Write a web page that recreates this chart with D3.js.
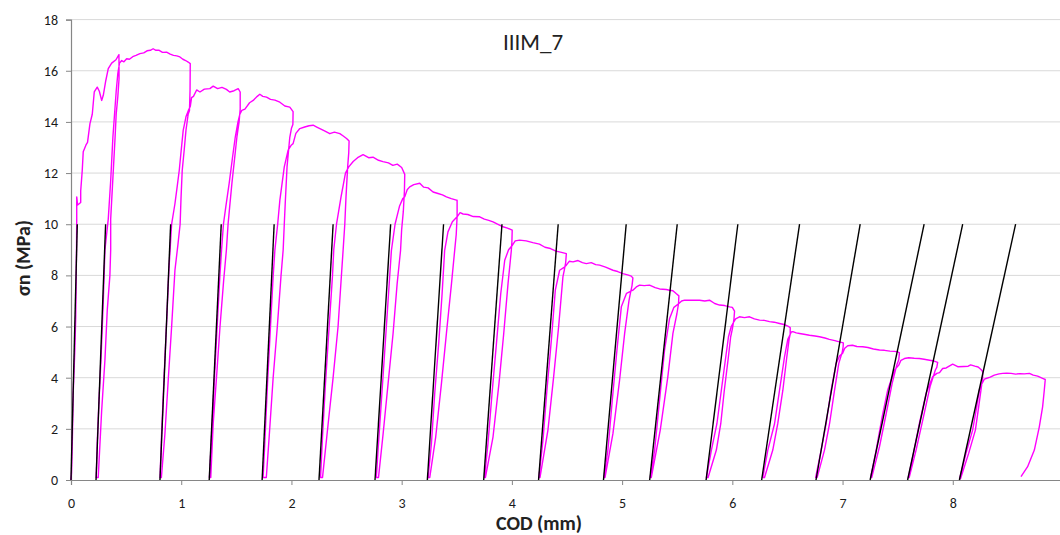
<!DOCTYPE html>
<html>
<head>
<meta charset="utf-8">
<script src="https://cdn.jsdelivr.net/npm/d3@7/dist/d3.min.js"></script>
<style>
  html, body { margin: 0; padding: 0; background: #fff; }
  svg { display: block; }
  text { font-family: Carlito, Calibri, Lato, "Open Sans", sans-serif; fill: #222; }
</style>
</head>
<body>
<svg id="chart" width="1060" height="535"></svg>
<script>
// Cyclic wedge-splitting test, specimen IIIM_7: nominal stress vs crack opening displacement.
// Points are [COD (mm), sigma_n (MPa)].

const codTicks = [0, 1, 2, 3, 4, 5, 6, 7, 8, 9];
const stressTicks = [0, 2, 4, 6, 8, 10, 12, 14, 16, 18];

// Unloading-stiffness reference lines: COD at 0 MPa and at 10 MPa
const stiffnessFootCod = [0.000, 0.227, 0.807, 1.254, 1.734, 2.250, 2.758, 3.233, 3.744, 4.242, 4.831, 5.250, 5.762, 6.266, 6.759, 7.250, 7.590, 8.060];
const stiffnessTopCod  = [0.057, 0.314, 0.904, 1.363, 1.843, 2.378, 2.900, 3.380, 3.910, 4.420, 5.037, 5.500, 6.050, 6.610, 7.160, 7.740, 8.090, 8.570];
const stiffnessTopStress = 10;

// First loading up to the first unloading point
const initialLoading = [[0,0],[0.005,0.3],[0.012,1.5],[0.02,3.4],[0.035,5.1],[0.043,6.4],[0.05,9.0],[0.052,10.16],[0.052,11.07],[0.06,10.75],[0.088,10.85],[0.088,11.3],[0.102,12.1],[0.111,12.83],[0.136,13.1],[0.15,13.2],[0.172,13.93],[0.193,14.3],[0.211,15.17],[0.238,15.36],[0.257,15.2],[0.278,14.84],[0.293,15.04],[0.315,15.6],[0.338,16.08],[0.369,16.3],[0.408,16.43],[0.435,16.63]];

// Unloading branches, from the envelope down to the residual opening
const unloadingBranches = [
  [[0.435,16.63],[0.436,15.7],[0.425,15.0],[0.41,14.3],[0.40,13.4],[0.385,12.2],[0.37,11.0],[0.36,10.2],[0.36,9.0],[0.353,8.0],[0.329,6.64],[0.308,4.7],[0.278,2.7],[0.247,0.1]],
  [[1.082,16.28],[1.08,15.23],[1.075,14.45],[1.063,14.3],[1.043,13.67],[1.027,12.9],[1.009,12.1],[0.998,11.0],[0.99,10.0],[0.97,9.2],[0.943,8.2],[0.913,6.0],[0.882,3.9],[0.852,1.8],[0.82,0.1]],
  [[1.535,15.17],[1.535,14.5],[1.525,14.0],[1.505,13.4],[1.485,12.6],[1.46,11.6],[1.44,10.7],[1.425,10.0],[1.41,9.0],[1.385,7.8],[1.352,6.0],[1.32,4.0],[1.29,2.2],[1.268,0.1]],
  [[2.015,14.4],[2.013,13.9],[2.0,13.75],[1.985,13.4],[1.96,12.24],[1.945,10.94],[1.935,10.0],[1.925,9.0],[1.905,7.96],[1.872,6.0],[1.834,4.0],[1.798,1.69],[1.772,0.1]],
  [[2.523,13.25],[2.52,12.8],[2.51,12.24],[2.495,11.07],[2.484,10.0],[2.469,9.0],[2.455,8.1],[2.423,6.0],[2.378,4.0],[2.333,2.2],[2.282,0.1]],
  [[3.028,11.95],[3.025,11.3],[3.015,10.5],[3.0,9.8],[2.99,8.98],[2.959,7.68],[2.922,5.73],[2.877,3.78],[2.832,1.82],[2.79,0.1]],
  [[3.503,10.94],[3.503,10.3],[3.495,9.6],[3.481,8.98],[3.452,7.68],[3.406,5.73],[3.361,3.78],[3.309,1.69],[3.255,0.1]],
  [[4.003,9.77],[4.0,9.3],[3.995,8.98],[3.965,7.68],[3.926,5.73],[3.883,3.78],[3.829,1.69],[3.76,0.1]],
  [[4.494,8.85],[4.488,8.5],[4.475,8.2],[4.463,7.94],[4.424,5.99],[4.379,4.04],[4.327,1.95],[4.255,0.1]],
  [[5.098,7.9],[5.09,7.6],[5.075,7.3],[5.062,7.0],[5.023,5.73],[4.977,3.9],[4.917,1.82],[4.845,0.1]],
  [[5.515,7.2],[5.512,6.9],[5.497,6.5],[5.461,5.73],[5.415,4.04],[5.346,1.95],[5.265,0.1]],
  [[6.02,6.6],[6.015,6.3],[6.0,5.9],[5.985,5.6],[5.964,4.8],[5.927,3.5],[5.895,2.2],[5.855,1.17],[5.78,0.1]],
  [[6.525,5.96],[6.525,5.7],[6.515,5.5],[6.494,4.8],[6.458,3.5],[6.412,2.2],[6.367,1.17],[6.292,0.1]],
  [[7.007,5.36],[7.005,5.2],[6.997,5.0],[6.966,4.56],[6.927,3.5],[6.882,2.2],[6.836,1.17],[6.77,0.1]],
  [[7.516,4.97],[7.51,4.7],[7.492,4.5],[7.45,3.78],[7.396,2.6],[7.335,1.3],[7.265,0.1]],
  [[7.863,4.6],[7.855,4.4],[7.842,4.3],[7.794,3.65],[7.734,2.47],[7.667,1.17],[7.605,0.1]],
  [[8.271,4.24],[8.271,4.0],[8.256,3.52],[8.235,2.86],[8.205,1.95],[8.144,1.04],[8.07,0.05]]
];

// Reloading branches, from the residual opening back to the envelope
const reloadingBranches = [
  [[0.229,0.1],[0.239,1.56],[0.254,3.1],[0.272,4.7],[0.293,7.0],[0.308,9.0],[0.338,10.2],[0.36,11.7],[0.38,13.4],[0.395,14.3],[0.41,15.2],[0.425,15.9],[0.44,16.3],[0.46,16.4]],
  [[0.808,0.1],[0.821,1.69],[0.843,3.9],[0.867,6.12],[0.888,8.2],[0.913,10.0],[0.943,10.8],[0.963,11.46],[0.982,12.1],[1.0,12.9],[1.018,13.67],[1.043,14.2],[1.065,14.45],[1.082,14.6]],
  [[1.256,0.1],[1.275,1.69],[1.299,3.78],[1.326,6.0],[1.351,8.0],[1.366,9.0],[1.383,10.0],[1.405,10.7],[1.435,11.6],[1.465,12.6],[1.49,13.4],[1.515,14.0],[1.532,14.3]],
  [[1.743,0.1],[1.758,1.43],[1.783,3.78],[1.81,6.0],[1.834,7.96],[1.85,9.0],[1.875,10.0],[1.895,10.94],[1.935,12.24],[1.97,12.9],[2.0,13.1],[2.015,13.15]],
  [[2.264,0.1],[2.282,1.69],[2.309,3.78],[2.342,6.0],[2.372,7.96],[2.384,9.0],[2.409,10.0],[2.45,11.07],[2.49,12.0],[2.52,12.24]],
  [[2.77,0.1],[2.786,1.17],[2.816,3.1],[2.847,5.08],[2.877,7.03],[2.907,8.98],[2.94,10.0],[2.98,10.7],[3.01,11.0],[3.028,11.07]],
  [[3.24,0.1],[3.27,1.43],[3.3,3.39],[3.336,5.34],[3.367,7.29],[3.39,8.98],[3.42,9.7],[3.46,10.1],[3.503,10.29]],
  [[3.752,0.1],[3.783,1.43],[3.82,3.39],[3.86,5.34],[3.899,7.29],[3.935,8.59],[3.97,9.0],[4.005,9.18]],
  [[4.245,0.1],[4.282,1.56],[4.318,3.52],[4.358,5.47],[4.394,7.42],[4.433,8.2],[4.47,8.3],[4.494,8.4]],
  [[4.835,0.1],[4.871,1.17],[4.911,3.13],[4.953,5.08],[4.993,6.77],[5.04,7.3],[5.098,7.42]],
  [[5.256,0.1],[5.295,1.17],[5.34,3.13],[5.385,5.08],[5.43,6.3],[5.47,6.75],[5.515,6.9]],
  [[5.765,0.1],[5.81,1.17],[5.86,2.2],[5.9,3.5],[5.94,4.8],[5.965,5.6],[5.99,6.0],[6.005,6.12]],
  [[6.277,0.1],[6.322,1.17],[6.383,2.2],[6.428,3.5],[6.473,4.8],[6.503,5.5],[6.52,5.65]],
  [[6.756,0.1],[6.806,1.17],[6.851,2.2],[6.896,3.5],[6.942,4.56],[6.972,4.85],[7.0,4.95]],
  [[7.255,0.1],[7.305,1.17],[7.359,2.47],[7.41,3.52],[7.471,4.3],[7.51,4.49]],
  [[7.597,0.1],[7.637,0.91],[7.697,2.21],[7.758,3.39],[7.818,4.04],[7.855,4.17]],
  [[8.062,0.05],[8.12,1.04],[8.18,1.95],[8.217,2.86],[8.241,3.52],[8.266,3.78]]
];

// Softening envelope between successive cycles
const envelopeSegments = [
  [[0.46,16.4],[0.48,16.35],[0.505,16.47],[0.53,16.45],[0.56,16.55],[0.59,16.6],[0.625,16.67],[0.66,16.7],[0.69,16.78],[0.72,16.8],[0.745,16.86],[0.77,16.8],[0.80,16.8],[0.83,16.72],[0.867,16.73],[0.9,16.65],[0.93,16.6],[0.96,16.58],[0.988,16.54],[1.015,16.45],[1.04,16.4],[1.063,16.34],[1.082,16.28]],
  [[1.082,14.6],[1.094,14.95],[1.111,15.0],[1.14,15.25],[1.17,15.17],[1.21,15.28],[1.26,15.3],[1.29,15.4],[1.33,15.3],[1.37,15.35],[1.41,15.27],[1.44,15.17],[1.48,15.22],[1.517,15.3],[1.535,15.17]],
  [[1.532,14.3],[1.55,14.45],[1.578,14.5],[1.62,14.75],[1.653,14.84],[1.69,15.0],[1.713,15.08],[1.74,15.0],[1.774,14.97],[1.81,14.88],[1.85,14.85],[1.895,14.77],[1.94,14.62],[1.985,14.58],[2.015,14.4]],
  [[2.015,13.15],[2.04,13.55],[2.076,13.74],[2.12,13.8],[2.16,13.85],[2.197,13.87],[2.23,13.8],[2.258,13.74],[2.3,13.65],[2.348,13.54],[2.39,13.6],[2.439,13.54],[2.47,13.45],[2.5,13.35],[2.523,13.25]],
  [[2.52,12.24],[2.56,12.45],[2.6,12.6],[2.65,12.72],[2.7,12.6],[2.74,12.62],[2.79,12.5],[2.83,12.45],[2.88,12.4],[2.92,12.3],[2.96,12.35],[3.0,12.22],[3.028,11.95]],
  [[3.028,11.07],[3.05,11.35],[3.073,11.46],[3.11,11.55],[3.164,11.6],[3.2,11.45],[3.24,11.42],[3.285,11.26],[3.33,11.2],[3.37,11.15],[3.406,11.07],[3.45,11.0],[3.497,10.94]],
  [[3.503,10.29],[3.53,10.45],[3.557,10.4],[3.6,10.38],[3.65,10.3],[3.708,10.29],[3.75,10.2],[3.79,10.15],[3.829,10.09],[3.87,10.0],[3.919,9.9],[3.96,9.85],[4.003,9.77]],
  [[4.005,9.18],[4.03,9.35],[4.07,9.38],[4.13,9.35],[4.19,9.28],[4.25,9.22],[4.3,9.1],[4.35,9.05],[4.4,8.95],[4.45,8.9],[4.494,8.85]],
  [[4.494,8.4],[4.52,8.55],[4.554,8.53],[4.6,8.58],[4.64,8.5],[4.675,8.46],[4.72,8.5],[4.76,8.42],[4.796,8.4],[4.85,8.32],[4.917,8.2],[4.96,8.15],[5.007,8.07],[5.05,8.02],[5.083,7.97],[5.098,7.9]],
  [[5.098,7.42],[5.129,7.55],[5.159,7.62],[5.2,7.6],[5.249,7.62],[5.3,7.52],[5.34,7.47],[5.4,7.45],[5.43,7.42],[5.461,7.4],[5.49,7.29],[5.515,7.2]],
  [[5.515,6.9],[5.54,7.0],[5.567,7.03],[5.62,7.03],[5.672,7.03],[5.703,7.03],[5.75,7.0],[5.793,7.03],[5.84,6.9],[5.884,6.84],[5.93,6.82],[5.975,6.77],[6.0,6.75],[6.02,6.6]],
  [[6.005,6.12],[6.03,6.3],[6.065,6.38],[6.11,6.35],[6.156,6.38],[6.2,6.3],[6.247,6.25],[6.29,6.24],[6.337,6.19],[6.38,6.17],[6.428,6.12],[6.47,6.08],[6.503,6.02],[6.525,5.96]],
  [[6.52,5.65],[6.535,5.79],[6.549,5.8],[6.58,5.75],[6.61,5.73],[6.65,5.7],[6.7,5.66],[6.75,5.63],[6.791,5.6],[6.84,5.55],[6.88,5.5],[6.93,5.45],[6.971,5.4],[7.007,5.36]],
  [[7.0,4.95],[7.02,5.15],[7.047,5.25],[7.09,5.27],[7.13,5.22],[7.183,5.21],[7.23,5.18],[7.28,5.12],[7.335,5.08],[7.38,5.07],[7.43,5.04],[7.47,5.03],[7.5,5.01],[7.516,4.97]],
  [[7.51,4.49],[7.53,4.68],[7.561,4.75],[7.6,4.78],[7.65,4.76],[7.697,4.75],[7.74,4.72],[7.79,4.68],[7.83,4.65],[7.863,4.6]],
  [[7.855,4.17],[7.88,4.2],[7.908,4.36],[7.94,4.38],[7.999,4.53],[8.045,4.43],[8.1,4.44],[8.14,4.45],[8.162,4.5],[8.2,4.45],[8.23,4.42],[8.256,4.32],[8.271,4.24]],
  [[8.266,3.78],[8.285,3.93],[8.302,3.97],[8.34,4.02],[8.377,4.1],[8.42,4.15],[8.453,4.17],[8.49,4.18],[8.529,4.17],[8.57,4.14],[8.61,4.16],[8.65,4.15],[8.695,4.17],[8.73,4.1],[8.77,4.06],[8.815,3.97],[8.839,3.93]]
];

// Last unloading at the end of the test
const finalUnloading = [[8.839,3.93],[8.83,3.5],[8.815,2.86],[8.785,2.08],[8.74,1.17],[8.679,0.52],[8.619,0.13]];

// ---- layout ----
const svg = d3.select("#chart");
const x = d3.scaleLinear().domain([0, 9]).range([71, 1063]);
const y = d3.scaleLinear().domain([0, 18]).range([480, 19.6]);

// horizontal gridlines
svg.append("g")
  .selectAll("line")
  .data(stressTicks.filter(d => d > 0))
  .join("line")
  .attr("x1", x(0)).attr("x2", x(9))
  .attr("y1", d => y(d)).attr("y2", d => y(d))
  .attr("stroke", "#d9d9d9").attr("stroke-width", 1);

// y axis
const yAxis = svg.append("g")
  .attr("transform", `translate(${x(0)},0)`)
  .call(d3.axisLeft(y).tickValues(stressTicks).tickFormat(d3.format("d")).tickSize(5).tickPadding(8));
yAxis.selectAll("text").style("font-size", "14px").style("fill", "#1a1a1a");

// x axis
const xAxis = svg.append("g")
  .attr("transform", `translate(0,${y(0)})`)
  .call(d3.axisBottom(x).tickValues(codTicks).tickFormat(d3.format("d")).tickSize(5).tickPadding(13));
xAxis.selectAll("text").style("font-size", "14px").style("fill", "#1a1a1a");

[yAxis, xAxis].forEach(g => {
  g.select(".domain").attr("stroke", "#868686").attr("stroke-width", 1.2);
  g.selectAll(".tick line").attr("stroke", "#868686");
});

// test curve: initial loading, then unload / reload / envelope for every cycle
const curve = [...initialLoading];
unloadingBranches.forEach((u, i) => {
  curve.push(...u, ...reloadingBranches[i], ...envelopeSegments[i]);
});
curve.push(...finalUnloading);

const line = d3.line().x(d => x(d[0])).y(d => y(d[1]));

svg.append("path")
  .datum(curve)
  .attr("d", line)
  .attr("fill", "none")
  .attr("stroke", "#ff00ff")
  .attr("stroke-width", 1.4)
  .attr("stroke-linejoin", "round");

// unloading-stiffness lines
svg.append("g")
  .selectAll("line")
  .data(stiffnessFootCod.map((c, i) => [c, stiffnessTopCod[i]]))
  .join("line")
  .attr("x1", d => x(d[0])).attr("y1", y(0))
  .attr("x2", d => x(d[1])).attr("y2", y(stiffnessTopStress))
  .attr("stroke", "#000").attr("stroke-width", 1.4);

// titles
svg.append("text")
  .attr("x", 533).attr("y", 50)
  .attr("text-anchor", "middle")
  .style("font-size", "23px")
  .text("IIIM_7");

svg.append("text")
  .attr("x", 539).attr("y", 530)
  .attr("text-anchor", "middle")
  .style("font-size", "20px").attr("font-weight", "bold")
  .text("COD (mm)");

svg.append("text")
  .attr("transform", "translate(30,258) rotate(-90)")
  .attr("text-anchor", "middle")
  .style("font-size", "20px").attr("font-weight", "bold")
  .text("σn (MPa)");
</script>
</body>
</html>
